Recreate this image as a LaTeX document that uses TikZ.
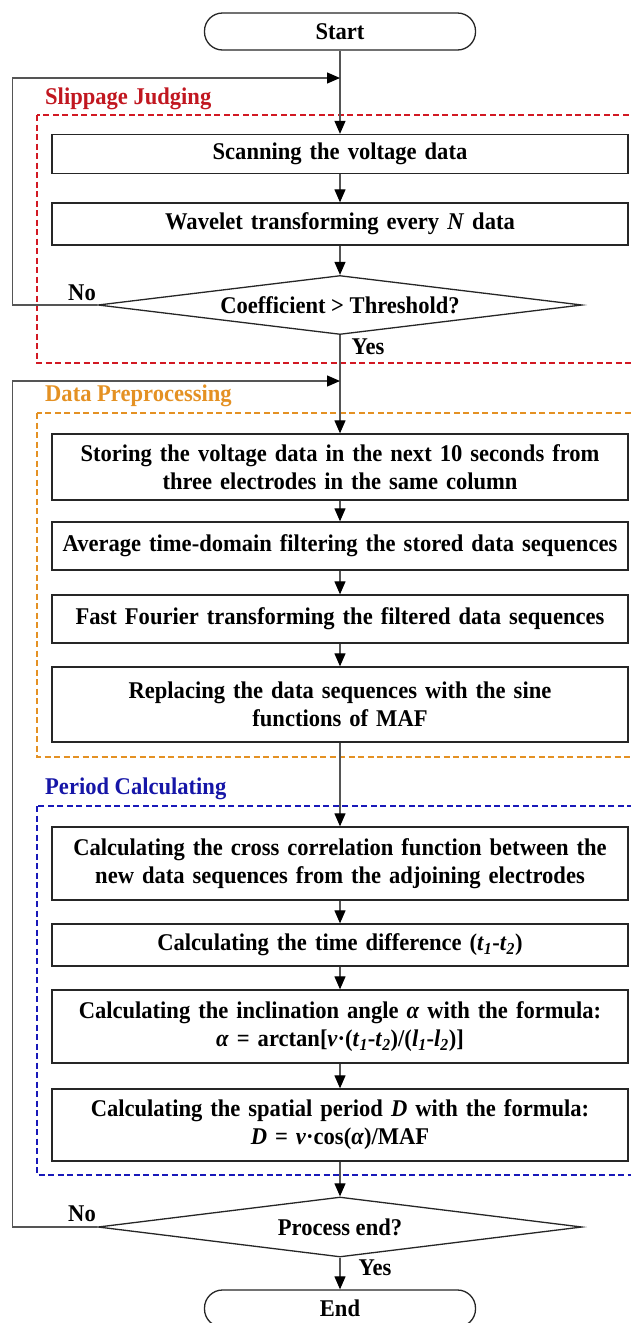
\documentclass[tikz,border=0pt]{standalone}
\usepackage{fontspec}
\setmainfont{Liberation Serif}[FakeStretch=0.94]
\usetikzlibrary{shapes.geometric,arrows.meta}
\definecolor{judgered}{RGB}{210,25,35}
\definecolor{prepor}{RGB}{228,145,35}
\definecolor{periodblue}{RGB}{25,25,185}
\definecolor{flowgray}{RGB}{85,85,85}
\begin{document}
\begin{tikzpicture}[x=1pt,y=-1pt,
  txt/.style={font=\bfseries\fontsize{24}{28}\selectfont},
  proc/.style={txt, draw=black!85, line width=1.3pt, fill=white,
    minimum width=576pt, text width=570pt, align=center, inner sep=0pt},
  term/.style={txt, draw=black!85, line width=1.3pt, fill=white,
    rounded corners=18pt, minimum width=271pt, minimum height=37pt, inner sep=0pt},
  decide/.style={txt, draw=black!85, line width=1.3pt, fill=white,
    shape=diamond, aspect=8, inner sep=0pt, minimum width=484pt, minimum height=59pt},
  flow/.style={draw=flowgray, line width=1.2pt,
    -{Triangle[length=13pt,width=11pt,color=black]}},
  region/.style={line width=1.2pt, dash pattern=on 6pt off 3.5pt},
  regionlabel/.style={txt, anchor=west, inner sep=0pt}
]
\useasboundingbox (0,0) rectangle (631,1323);
\clip (0,0) rectangle (631,1323);

% stage frames
\draw[region, judgered] (37,115) rectangle (650,363);
\node[regionlabel, text=judgered!92!black] (lbl1) at (45,99) {Slippage Judging};
\draw[region, prepor] (37,413) rectangle (650,757);
\node[regionlabel, text=prepor] (lbl2) at (45,396) {Data Preprocessing};
\draw[region, periodblue] (37,806) rectangle (650,1175);
\node[regionlabel, text=periodblue!90!black] (lbl3) at (45,789) {Period Calculating};

% steps
\node[term] (start) at (340,31.5) {Start};
\node[proc, minimum height=39pt] (scan) at (340,154) {Scanning the voltage data};
\node[proc, minimum height=42pt] (wave) at (340,224) {Wavelet transforming every \textit{N} data};
\node[decide] (coef) at (340,305) {Coefficient > Threshold?};
\node[proc, minimum height=66pt] (store) at (340,467)
  {Storing the voltage data in the next 10 seconds from\\three electrodes in the same column};
\node[proc, minimum height=48pt] (avg) at (340,546)
  {Average time-domain filtering the stored data sequences};
\node[proc, minimum height=48pt] (fft) at (340,619)
  {Fast Fourier transforming the filtered data sequences};
\node[proc, minimum height=75pt] (sine) at (340,704.5)
  {Replacing the data sequences with the sine\\functions of MAF};
\node[proc, minimum height=73pt] (xcorr) at (340,863.5)
  {Calculating the cross correlation function between the\\new data sequences from the adjoining electrodes};
\node[proc, minimum height=42pt] (tdiff) at (340,945)
  {Calculating the time difference (\textit{t}\textsubscript{\textit{1}}-\textit{t}\textsubscript{\textit{2}})};
\node[proc, minimum height=73pt] (angle) at (340,1026.5)
  {Calculating the inclination angle \textit{α} with the formula:\\
   \textit{α} = arctan[\textit{v}·(\textit{t}\textsubscript{\textit{1}}-\textit{t}\textsubscript{\textit{2}})/(\textit{l}\textsubscript{\textit{1}}-\textit{l}\textsubscript{\textit{2}})]};
\node[proc, minimum height=72pt] (period) at (340,1125)
  {Calculating the spatial period \textit{D} with the formula:\\
   \textit{D} = \textit{v}·cos(\textit{α})/MAF};
\node[decide, minimum height=60pt] (done) at (340,1227) {Process end?};
\node[term] (stop) at (340,1308.5) {End};

% junctions where the loops re-enter
\coordinate (j1) at (340,78);
\coordinate (j2) at (340,381);

% main flow
\draw[flow] (start.south) -- (scan.north);
\draw[flow] (scan.south) -- (wave.north);
\draw[flow] (wave.south) -- (coef.north);
\draw[flow] (coef.south) -- (store.north);
\draw[flow] (store.south) -- (avg.north);
\draw[flow] (avg.south) -- (fft.north);
\draw[flow] (fft.south) -- (sine.north);
\draw[flow] (sine.south) -- (xcorr.north);
\draw[flow] (xcorr.south) -- (tdiff.north);
\draw[flow] (tdiff.south) -- (angle.north);
\draw[flow] (angle.south) -- (period.north);
\draw[flow] (period.south) -- (done.north);
\draw[flow] (done.south) -- (stop.north);

% loops back
\draw[flow] (coef.west) -- ++(-85,0) |- (j1);
\draw[flow] (done.west) -- ++(-85,0) |- (j2);

% branch labels
\node[txt] (no1) at (82,293) {No};
\node[txt] (yes1) at (368,347) {Yes};
\node[txt] (no2) at (82,1214) {No};
\node[txt] (yes2) at (375,1268) {Yes};
\end{tikzpicture}
\end{document}
